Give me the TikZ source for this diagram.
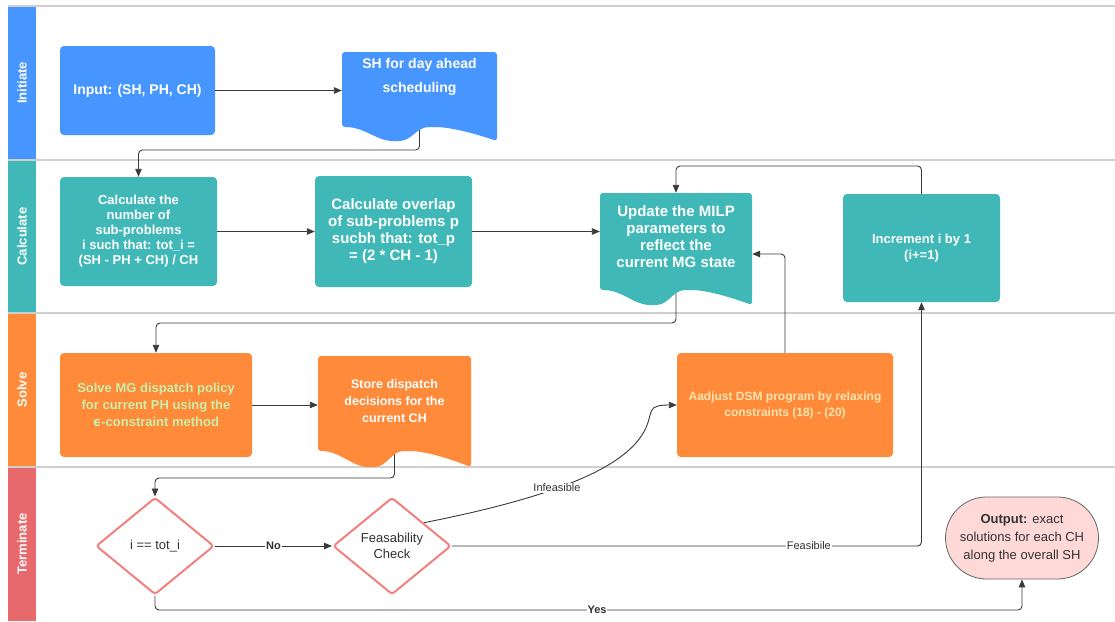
\documentclass[tikz,border=0pt]{standalone}
\usepackage{fontspec}
\setmainfont{Liberation Sans}
\newfontfamily\dejavu{DejaVu Sans}
\usetikzlibrary{arrows.meta,shapes.geometric,calc}
\definecolor{cblue}{HTML}{4796FF}
\definecolor{cteal}{HTML}{40B8B8}
\definecolor{corange}{HTML}{FF8A3A}
\definecolor{cred}{HTML}{E8696B}
\definecolor{cdia}{HTML}{F2807E}
\definecolor{cpink}{HTML}{FFD8D8}
\definecolor{cgreentxt}{HTML}{C8EFA8}
\definecolor{cyeltxt}{HTML}{FFE4B0}
\definecolor{clane}{HTML}{CFCFCF}
\definecolor{cline}{HTML}{3A3A3A}
\definecolor{ctext}{HTML}{333333}
\pgfdeclarelayer{lanes}
\pgfdeclarelayer{conns}
\pgfsetlayers{lanes,conns,main}
\newcommand\docshp[6]{%
  \fill[#6,rounded corners=3pt] (#1,{#4-#5}) -- (#1,#2) -- (#3,#2) -- (#3,#4)
    .. controls ({#1+0.85*(#3-#1)},{#4-0.55*#5}) and ({#1+0.7*(#3-#1)},{#4-#5}) .. ({#1+0.58*(#3-#1)},{#4-#5})
    .. controls ({#1+0.48*(#3-#1)},{#4-#5}) and ({#1+0.45*(#3-#1)},{#4}) .. ({#1+0.35*(#3-#1)},{#4})
    .. controls ({#1+0.22*(#3-#1)},{#4}) and ({#1+0.15*(#3-#1)},{#4-#5}) .. (#1,{#4-#5}) -- cycle;}
\tikzset{
  lane/.style={draw=clane,line width=1.6pt},
  lanelabel/.style={rotate=90,text=white,font=\fontsize{13}{15}\selectfont\bfseries},
  box/.style={rectangle,rounded corners=4pt,text=white,align=center,inner sep=0pt,font=\bfseries},
  ghost/.style={rectangle,inner sep=0pt},
  doctext/.style={text=white,align=center,font=\bfseries},
  dia/.style={diamond,draw=cdia,line width=2pt,fill=white,aspect=1.2,inner sep=0pt,
    minimum width=118pt,minimum height=97pt,rounded corners=3pt,text=ctext,align=center,
    font=\fontsize{13}{16}\selectfont},
  conn/.style={draw=cline,line width=0.9pt,rounded corners=4pt,-{Triangle[length=8pt,width=6.5pt]}},
  lbl/.style={fill=white,inner sep=1pt,text=ctext,font=\fontsize{11}{13}\selectfont},
}
\begin{document}
\begin{tikzpicture}[x=1pt,y=-1pt]
\useasboundingbox (0,0) rectangle (1115,621);
\begin{pgfonlayer}{lanes}
\fill[white] (0,0) rectangle (1115,621);
\fill[cblue] (8,6) rectangle (36,160);
\fill[cteal] (8,160) rectangle (36,313);
\fill[corange] (8,313) rectangle (36,467);
\fill[cred] (8,467) rectangle (36,621);
\draw[lane] (8,6) -- (1115,6);
\draw[lane] (8,160) -- (1115,160);
\draw[lane] (8,313) -- (1115,313);
\draw[lane] (8,467) -- (1115,467);
\end{pgfonlayer}
\node[lanelabel] (l1) at (22,83) {Initiate};
\node[lanelabel] (l2) at (22,236.5) {Calculate};
\node[lanelabel] (l3) at (22,390) {Solve};
\node[lanelabel] (l4) at (22,544) {Terminate};
% Initiate
\node[box,fill=cblue,minimum width=155pt,minimum height=89pt,font=\fontsize{14}{16}\selectfont\bfseries] (input) at (137.5,90.5) {Input: (SH, PH, CH)};
\docshp{342}{52}{497}{141}{14}{cblue}
\node[ghost,minimum width=155pt,minimum height=89pt] (sh) at (419.5,96.5) {};
\node[doctext,font=\fontsize{14}{24}\selectfont\bfseries] (shtxt) at (419.5,77) {SH for day ahead\\scheduling};
% Calculate
\node[box,fill=cteal,minimum width=157pt,minimum height=109pt,font=\fontsize{13}{15}\selectfont\bfseries] (calc1) at (138.5,231.5) {Calculate the\\number of\\sub-problems\\i such that: tot\_i =\\(SH - PH + CH) / CH};
\node[box,fill=cteal,minimum width=157pt,minimum height=111pt,font=\fontsize{15}{17}\selectfont\bfseries] (calc2) at (393.5,231.5) {Calculate overlap\\of sub-problems p\\sucbh that: tot\_p\\= (2 * CH - 1)};
\docshp{600}{193}{752}{305}{15}{cteal}
\node[ghost,minimum width=152pt,minimum height=112pt] (upd) at (676,249) {};
\node[doctext,font=\fontsize{15}{17}\selectfont\bfseries] (updtxt) at (676,237) {Update the MILP\\parameters to\\reflect the\\current MG state};
\node[box,fill=cteal,minimum width=157pt,minimum height=108pt,font=\fontsize{13}{16}\selectfont\bfseries] (inc) at (921.5,248) {Increment i by 1\\(i+=1)};
% Solve
\node[box,fill=corange,minimum width=192pt,minimum height=104pt,text=cgreentxt,font=\fontsize{13}{17}\selectfont\bfseries] (solve) at (156,405) {Solve MG dispatch policy\\for current PH using the\\{\dejavu\bfseries ϵ}-constraint method};
\docshp{318}{356}{471}{467}{16}{corange}
\node[ghost,minimum width=153pt,minimum height=111pt] (store) at (394.5,411.5) {};
\node[doctext,font=\fontsize{12.5}{17}\selectfont\bfseries] (storetxt) at (394.5,401) {Store dispatch\\decisions for the\\current CH};
\node[box,fill=corange,minimum width=216pt,minimum height=104pt,text=cyeltxt,font=\fontsize{12}{16}\selectfont\bfseries] (adj) at (785,405) {Aadjust DSM program by relaxing\\constraints (18) - (20)};
% Terminate
\node[dia] (d1) at (155,546) {i == tot\_i};
\node[dia] (d2) at (392,546) {Feasability\\Check};
\node[rectangle,rounded corners=41pt,draw=black!60,line width=0.8pt,fill=cpink,minimum width=153pt,minimum height=82pt,
  text=ctext,align=center,font=\fontsize{13}{18}\selectfont] (out) at (1022,538) {\textbf{Output:} exact\\solutions for each CH\\along the overall SH};
% coordinates
\coordinate (j1) at (300,150);
\coordinate (j2) at (800,166);
\coordinate (j3) at (400,323);
\coordinate (j4) at (300,478);
\coordinate (j5) at (597,610);
\coordinate (s2) at ($(d2.north)!0.53!(d2.east)$);
\begin{pgfonlayer}{conns}
\draw[conn] (input.east) -- (input.east -| sh.west);
\draw[conn] (sh.center) |- (j1) -| (calc1.north);
\draw[conn] (calc1.east) -- (calc1.east -| calc2.west);
\draw[conn] (calc2.east) -- (calc2.east -| upd.west);
\draw[conn] (inc.north) |- (j2) -| (upd.north);
\draw[conn] (adj.north) |- ($(upd.east)+(0,5)$);
\draw[conn] (upd.center) |- (j3) -| (solve.north);
\draw[conn] (solve.east) -- (solve.east -| store.west);
\draw[conn] (store.center) |- (j4) -| (d1.north);
\draw[conn] (d1.east) -- node[lbl,font=\fontsize{11}{13}\selectfont\bfseries,pos=0.5]{No} (d2.west);
\draw[conn] (s2) .. controls (590,490) and (640,455) .. (650,415) .. controls (653,406) and (660,405) .. (adj.west);
\draw[conn] (d2.east) -| node[lbl,pos=0.38]{Feasibile} (inc.south);
\draw[conn] (d1.south) |- (j5) -| (out.south);
\end{pgfonlayer}
\node[lbl] (inf) at (557,488) {Infeasible};
\node[lbl,font=\fontsize{11}{13}\selectfont\bfseries] (yes) at (j5) {Yes};
\end{tikzpicture}
\end{document}
